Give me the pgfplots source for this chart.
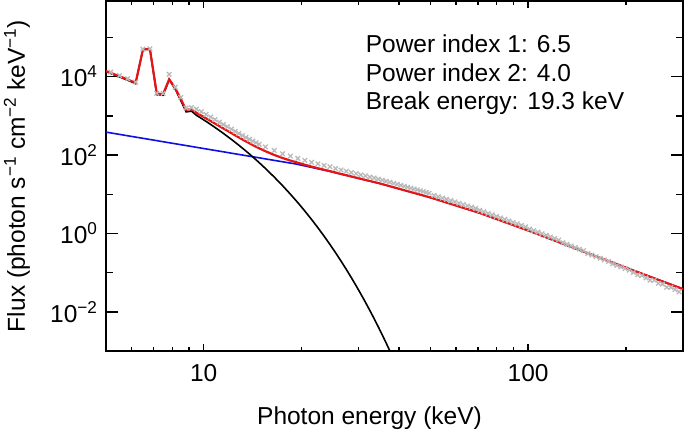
\documentclass[border=0pt]{standalone}
\usepackage{fontspec}
\setmainfont{Liberation Sans}
\usepackage{pgfplots}
\pgfplotsset{compat=1.18}
\definecolor{fitred}{RGB}{230,20,20}
\definecolor{ntblue}{RGB}{15,15,225}
\definecolor{datagrey}{RGB}{185,185,185}
\begin{document}
\begin{tikzpicture}[font=\fontsize{24.5bp}{29bp}\selectfont]
\begin{axis}[
  at={(0,0)}, anchor=south west,
  scale only axis, width=577bp, height=350bp,
  xmode=log, ymode=log,
  xmin=5, xmax=300, ymin=1e-3, ymax=8.5e5,
  axis line style={line width=1.6bp},
  every tick/.style={black, line width=1.4bp},
  major tick length=7bp, minor tick length=4bp,
  xtick={10,100}, xticklabels={10,100},
  minor xtick={6,7,8,9,20,30,40,50,60,70,80,90,200,300},
  ytick={1e-3,1e-1,1e1,1e3,1e5}, yticklabels={,,,,},
  yminorticks=false,
  extra y ticks={1e-2,1,1e2,1e4},
  extra y tick labels={10\textsuperscript{−2},10\textsuperscript{0},10\textsuperscript{2},10\textsuperscript{4}},
  extra y tick style={major tick length=12bp},
  xticklabel style={yshift=-10bp},
  yticklabel style={xshift=-5bp},
  xlabel={Photon energy (keV)},
  ylabel={Flux (photon s\textsuperscript{−1} cm\textsuperscript{−2} keV\textsuperscript{−1})},
  xlabel style={at={(axis description cs:0.4567,-0.2086)}, anchor=base},
  ylabel style={at={(axis description cs:-0.1404,0.5)}, anchor=base, rotate=0},
]
% observed data (grey crosses)
\addplot[only marks, mark=x, mark size=3.2bp, datagrey, mark options={line width=1.3bp}] table {
5.17 13030
5.50 10690
5.83 8831
6.17 7261
6.50 50120
6.83 51290
7.17 3758
7.50 3715
7.83 11480
8.17 5370
8.50 2951
8.83 1585
9.17 1622
9.50 1484
9.83 1277
10.17 1087
10.50 931.6
10.83 803.9
11.17 690.6
11.50 601.4
11.83 525.0
12.17 458.3
12.50 402.9
12.83 355.7
13.17 314.2
13.50 281.3
13.83 252.4
14.17 226.6
14.50 205.7
14.83 187.5
15.5 161.5
16.5 130.7
17.5 107.4
18.5 94.02
19.5 82.07
20.5 73.14
21.5 65.19
22.5 59.59
23.5 54.10
24.5 50.25
25.5 45.20
26.5 41.42
27.5 38.65
28.5 35.66
29.5 33.52
30.5 31.06
31.5 29.33
32.5 27.36
33.5 25.96
34.5 24.28
35.5 22.97
36.5 21.39
37.5 20.24
38.5 18.89
39.5 17.96
40.5 16.83
41.5 16.00
42.5 15.07
43.5 14.36
44.5 13.56
45.5 12.95
46.5 12.25
47.5 11.73
48.5 11.12
49.5 10.65
51.29 9.299
52.82 8.612
54.40 7.977
56.02 7.390
57.70 6.844
59.42 6.342
61.21 5.873
63.04 5.438
64.93 5.036
66.86 4.666
68.87 4.322
70.92 3.866
73.04 3.543
75.23 3.243
77.48 2.968
79.80 2.716
82.18 2.487
84.65 2.276
87.18 2.084
89.79 1.908
92.47 1.747
95.24 1.599
98.08 1.464
101.0 1.295
104.0 1.181
107.2 1.076
110.3 0.9806
113.7 0.8937
117.0 0.8143
120.5 0.7422
124.1 0.6764
127.9 0.5770
131.7 0.5258
135.6 0.4792
139.7 0.4367
143.9 0.3979
148.2 0.3627
152.7 0.3066
157.2 0.2793
161.9 0.2545
166.8 0.2319
171.7 0.2114
176.9 0.1927
182.2 0.1677
187.6 0.1528
193.2 0.1393
199.0 0.1269
205.0 0.1157
211.0 0.1009
217.4 0.0879
223.9 0.0840
230.6 0.0733
237.5 0.0639
244.6 0.0639
251.9 0.0532
259.4 0.0508
267.2 0.0423
275.2 0.0423
283.4 0.0369
291.9 0.0322
300.6 0.0322
};
% non-thermal component (blue)
\addplot[ntblue, line width=1.6bp] table {
4.83 402.7
19.3 58.75
24.49 38.28
34.91 18.84
49.89 8.288
71.12 3.296
101.4 1.138
144.5 0.3724
206.5 0.1211
300.6 0.03784
};
% thermal component (black)
\addplot[black, line width=1.6bp] table {
4.83 14860
5.17 12080
5.50 9886
5.83 8110
6.17 6637
6.50 49770
6.83 49770
7.17 3467
7.50 3350
7.83 8318
8.17 4842
8.50 2455
8.83 1259
9.17 1318
9.50 1032
9.83 864.1
10.17 720.4
10.50 604.0
10.83 507.2
11.17 423.8
11.50 356.2
11.83 299.6
12.17 251.0
12.50 211.3
12.83 178.1
13.17 149.4
13.50 126.1
13.83 106.4
14.17 89.35
14.50 75.48
14.83 63.77
15.5 45.39
16.5 27.37
17.5 16.56
18.5 10.04
19.5 6.108
20.5 3.722
21.5 2.272
22.5 1.389
23.5 0.8507
24.5 0.5218
25.5 0.3206
26.5 0.1971
27.5 0.1213
28.5 0.07479
29.5 0.04614
30.5 0.02849
31.5 0.01761
32.5 0.01089
33.5 0.006742
34.5 0.004176
35.5 0.002588
36.5 0.001605
37.5 0.000996
38.5 0.000618
};
% total fit (red)
\addplot[fitred, line width=2.2bp] table {
4.83 15280
5.17 12450
5.50 10210
5.83 8434
6.17 6934
6.50 49890
6.83 49890
7.17 3673
7.50 3589
7.83 8590
8.17 5070
8.50 2692
8.83 1413
9.17 1479
9.50 1191
9.83 1015
10.17 863.6
10.50 738.9
10.83 637.8
11.17 547.9
11.50 476.7
11.83 415.9
12.17 362.7
12.50 318.8
12.83 281.5
13.17 249.1
13.50 222.6
13.83 199.9
14.17 179.5
14.50 163.0
14.83 148.4
15.5 125.0
16.5 100.4
17.5 83.83
18.5 72.29
19.5 63.80
20.5 56.41
21.5 50.67
22.5 45.96
23.5 42.07
24.5 38.76
25.5 35.64
26.5 32.91
27.5 30.49
28.5 28.35
29.5 26.43
30.5 24.71
31.5 23.16
32.5 21.75
33.5 20.47
34.5 19.30
35.5 18.13
36.5 17.01
37.5 15.98
38.5 15.04
39.5 14.18
40.5 13.39
41.5 12.66
42.5 11.98
43.5 11.36
44.5 10.78
45.5 10.24
46.5 9.743
47.5 9.279
48.5 8.847
49.5 8.438
51.29 7.714
52.82 7.145
54.40 6.618
56.02 6.131
57.70 5.678
59.42 5.261
61.21 4.872
63.04 4.511
64.93 4.178
66.86 3.871
68.87 3.585
70.92 3.320
73.04 3.042
75.23 2.785
77.48 2.549
79.80 2.333
82.18 2.136
84.65 1.955
87.18 1.790
89.79 1.638
92.47 1.500
95.24 1.373
98.08 1.257
101.0 1.150
104.0 1.049
107.2 0.9559
110.3 0.8712
113.7 0.7939
117.0 0.7234
120.5 0.6594
124.1 0.6009
127.9 0.5476
131.7 0.4990
135.6 0.4547
139.7 0.4145
143.9 0.3776
148.2 0.3442
152.7 0.3138
157.2 0.2859
161.9 0.2605
166.8 0.2374
171.7 0.2164
176.9 0.1972
182.2 0.1797
187.6 0.1638
193.2 0.1493
199.0 0.1360
205.0 0.1240
211.0 0.1132
217.4 0.1033
223.9 0.09430
230.6 0.08608
237.5 0.07854
244.6 0.07170
251.9 0.06543
259.4 0.05972
267.2 0.05450
275.2 0.04974
283.4 0.04540
291.9 0.04143
300.6 0.03782
};
\node[anchor=base west] at (axis description cs:0.4442,0.853) {Power index 1: 6.5};
\node[anchor=base west] at (axis description cs:0.4442,0.7714) {Power index 2: 4.0};
\node[anchor=base west] at (axis description cs:0.4442,0.6886) {Break energy: 19.3 keV};
\end{axis}
\pgfresetboundingbox
\path[use as bounding box] (-106bp,-78bp) rectangle (579bp,351bp);
\end{tikzpicture}
\end{document}
